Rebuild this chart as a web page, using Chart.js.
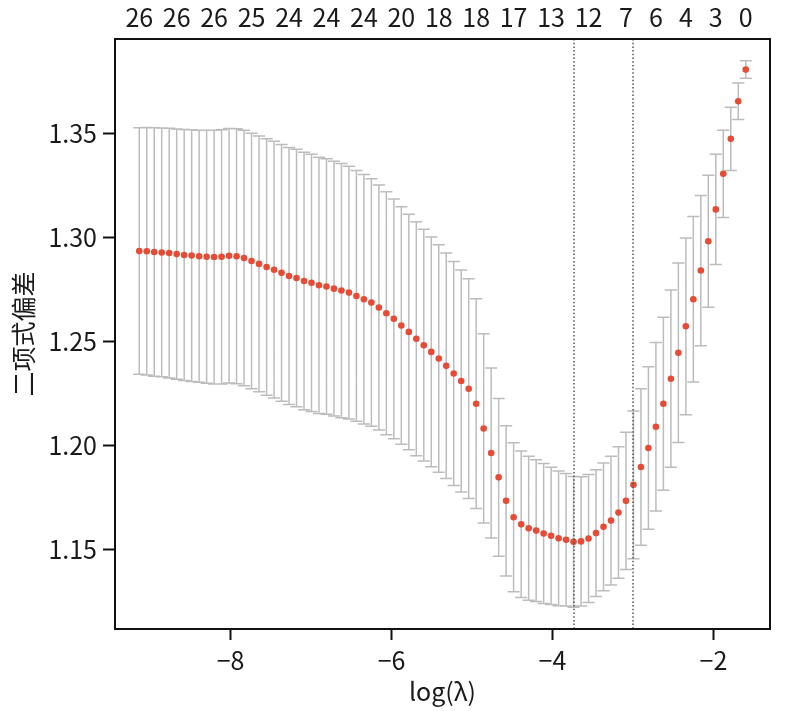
<!DOCTYPE html>
<html lang="zh">
<head>
<meta charset="UTF-8">
<title>交叉验证 二项式偏差</title>
<script src="https://cdn.jsdelivr.net/npm/chart.js@4.4.0/dist/chart.umd.min.js"></script>
<style>
    html, body { margin: 0; padding: 0; background: #fff; }
    #wrap { width: 799px; height: 711px; }
</style>
</head>
<body>
<div id="wrap"><canvas id="cvChart" width="799" height="711"></canvas></div>
<script>
const logLambda = [
    -9.134, -9.041, -8.948, -8.855, -8.762, -8.669, -8.576, -8.483, -8.390, -8.297,
    -8.204, -8.111, -8.018, -7.925, -7.832, -7.739, -7.646, -7.552, -7.459, -7.366,
    -7.273, -7.180, -7.087, -6.994, -6.901, -6.808, -6.715, -6.622, -6.529, -6.436,
    -6.343, -6.250, -6.157, -6.064, -5.971, -5.878, -5.785, -5.692, -5.599, -5.506,
    -5.413, -5.320, -5.227, -5.134, -5.041, -4.948, -4.855, -4.762, -4.669, -4.576,
    -4.483, -4.389, -4.296, -4.203, -4.110, -4.017, -3.924, -3.831, -3.738, -3.645,
    -3.552, -3.459, -3.366, -3.273, -3.180, -3.087, -2.994, -2.901, -2.808, -2.715,
    -2.622, -2.529, -2.436, -2.343, -2.250, -2.157, -2.064, -1.971, -1.878, -1.785,
    -1.692, -1.599
];

// mean cross-validated binomial deviance
const cvMean = [
    1.2935, 1.2934, 1.2930, 1.2928, 1.2925, 1.2920, 1.2916, 1.2913, 1.2910, 1.2907,
    1.2906, 1.2907, 1.2912, 1.2910, 1.2901, 1.2887, 1.2873, 1.2858, 1.2845, 1.2830,
    1.2815, 1.2805, 1.2791, 1.2782, 1.2770, 1.2764, 1.2754, 1.2745, 1.2735, 1.2719,
    1.2703, 1.2687, 1.2663, 1.2636, 1.2609, 1.2577, 1.2546, 1.2513, 1.2482, 1.2450,
    1.2418, 1.2383, 1.2346, 1.2310, 1.2273, 1.2201, 1.2082, 1.1964, 1.1847, 1.1734,
    1.1655, 1.1621, 1.1602, 1.1591, 1.1577, 1.1566, 1.1554, 1.1547, 1.1537, 1.1539,
    1.1553, 1.1579, 1.1609, 1.1639, 1.1678, 1.1734, 1.1811, 1.1897, 1.1988, 1.2090,
    1.2201, 1.2321, 1.2446, 1.2573, 1.2703, 1.2841, 1.2982, 1.3135, 1.3306, 1.3474,
    1.3655, 1.3807
];

// standard error (half length of each error bar)
const cvSd = [
    0.0593, 0.0595, 0.0597, 0.0598, 0.0600, 0.0601, 0.0603, 0.0605, 0.0606, 0.0608,
    0.0610, 0.0611, 0.0612, 0.0613, 0.0614, 0.0614, 0.0615, 0.0616, 0.0617, 0.0617,
    0.0618, 0.0619, 0.0619, 0.0618, 0.0616, 0.0614, 0.0612, 0.0611, 0.0607, 0.0603,
    0.0600, 0.0595, 0.0589, 0.0584, 0.0576, 0.0571, 0.0566, 0.0562, 0.0557, 0.0552,
    0.0547, 0.0542, 0.0538, 0.0534, 0.0528, 0.0504, 0.0455, 0.0409, 0.0379, 0.0361,
    0.0358, 0.0352, 0.0346, 0.0341, 0.0336, 0.0330, 0.0324, 0.0319, 0.0314, 0.0311,
    0.0308, 0.0305, 0.0307, 0.0309, 0.0316, 0.0330, 0.0355, 0.0376, 0.0390, 0.0405,
    0.0416, 0.0426, 0.0431, 0.0425, 0.0398, 0.0361, 0.0317, 0.0265, 0.0210, 0.0152,
    0.0088, 0.0042
];

// number of non-zero coefficients shown on the top axis
const nzeroIdx = [0, 5, 10, 15, 20, 25, 30, 35, 40, 45, 50, 55, 60, 65, 69, 73, 77, 81];
const nzeroLabels = ['26', '26', '26', '25', '24', '24', '24', '20', '18', '18', '17', '13', '12', '7', '6', '4', '3', '0'];

const minIdx = 58;   // lambda.min
const seIdx = 66;    // lambda.1se

const xTicks = [-8, -6, -4, -2];
const yTicks = [1.15, 1.20, 1.25, 1.30, 1.35];

// R style 4% padding around the data range
const xLo = Math.min(...logLambda), xHi = Math.max(...logLambda);
const upper = cvMean.map((m, i) => m + cvSd[i]);
const lower = cvMean.map((m, i) => m - cvSd[i]);
const yLo = Math.min(...lower), yHi = Math.max(...upper);
const xPad = (xHi - xLo) * 0.04, yPad = (yHi - yLo) * 0.04;

Chart.defaults.font.family = '"Noto Sans CJK SC", "Noto Sans", sans-serif';
Chart.defaults.color = '#1a1a1a';

const cvPlot = {
    id: 'cvPlot',
    beforeDatasetsDraw(chart) {
        const {ctx, scales: {x, y}} = chart;
        const capW = x.getPixelForValue(xLo + (xHi - xLo) * 0.01) - x.getPixelForValue(xLo);
        ctx.save();
        ctx.strokeStyle = '#bcbcbc';
        ctx.lineWidth = 1.5;
        ctx.beginPath();
        logLambda.forEach((l, i) => {
            const px = x.getPixelForValue(l);
            const top = y.getPixelForValue(upper[i]);
            const bot = y.getPixelForValue(lower[i]);
            ctx.moveTo(px, top); ctx.lineTo(px, bot);
            ctx.moveTo(px - capW, top); ctx.lineTo(px + capW, top);
            ctx.moveTo(px - capW, bot); ctx.lineTo(px + capW, bot);
        });
        ctx.stroke();
        ctx.restore();
    },
    afterDatasetsDraw(chart) {
        const {ctx, chartArea: a, scales: {x}} = chart;
        ctx.save();
        ctx.strokeStyle = '#555';
        ctx.lineWidth = 1.5;
        ctx.setLineDash([1.5, 2.2]);
        [minIdx, seIdx].forEach(i => {
            const px = Math.round(x.getPixelForValue(logLambda[i]));
            ctx.beginPath();
            ctx.moveTo(px, a.top); ctx.lineTo(px, a.bottom);
            ctx.stroke();
        });
        ctx.restore();
    },
    afterDraw(chart) {
        const {ctx, chartArea: a} = chart;
        ctx.save();
        ctx.strokeStyle = '#111';
        ctx.lineWidth = 2;
        ctx.strokeRect(a.left, a.top, a.right - a.left, a.bottom - a.top);
        ctx.restore();
    }
};

const minus = v => (v < 0 ? '\u2212' + Math.abs(v) : String(v));

new Chart(document.getElementById('cvChart'), {
    type: 'scatter',
    data: {
        datasets: [{
            data: logLambda.map((l, i) => ({x: l, y: cvMean[i]})),
            backgroundColor: '#e64b35',
            borderWidth: 0,
            pointRadius: 3.3,
            xAxisID: 'x',
            yAxisID: 'y'
        }]
    },
    options: {
        responsive: false,
        animation: false,
        devicePixelRatio: 1,
        layout: {padding: {left: 0, right: 29, top: 0, bottom: 0}},
        plugins: {legend: {display: false}, tooltip: {enabled: false}},
        scales: {
            x: {
                type: 'linear',
                position: 'bottom',
                min: xLo - xPad,
                max: xHi + xPad,
                afterBuildTicks: s => { s.ticks = xTicks.map(v => ({value: v})); },
                afterFit: s => { s.height = 82; },
                border: {display: false},
                grid: {drawOnChartArea: false, tickLength: 11, tickWidth: 2, tickColor: '#111'},
                ticks: {font: {size: 25}, padding: 5, maxRotation: 0, callback: v => minus(v)},
                title: {display: true, text: 'log(λ)', font: {size: 25}, padding: {top: 0, bottom: 5}}
            },
            xTop: {
                type: 'linear',
                position: 'top',
                min: xLo - xPad,
                max: xHi + xPad,
                afterBuildTicks: s => { s.ticks = nzeroIdx.map(i => ({value: logLambda[i]})); },
                afterFit: s => { s.height = 39; },
                border: {display: false},
                grid: {display: false, drawTicks: false},
                ticks: {font: {size: 25}, padding: 7, maxRotation: 0, autoSkip: false,
                        callback: (v, i) => nzeroLabels[i]}
            },
            y: {
                type: 'linear',
                position: 'left',
                min: yLo - yPad,
                max: yHi + yPad,
                afterBuildTicks: s => { s.ticks = yTicks.map(v => ({value: v})); },
                afterFit: s => { s.width = 115; },
                border: {display: false},
                grid: {drawOnChartArea: false, tickLength: 12, tickWidth: 2, tickColor: '#111'},
                ticks: {font: {size: 25}, padding: 6, callback: v => v.toFixed(2)},
                title: {display: true, text: '二项式偏差', font: {size: 25}, padding: {top: 8, bottom: 0}}
            }
        }
    },
    plugins: [cvPlot]
});
</script>
</body>
</html>
